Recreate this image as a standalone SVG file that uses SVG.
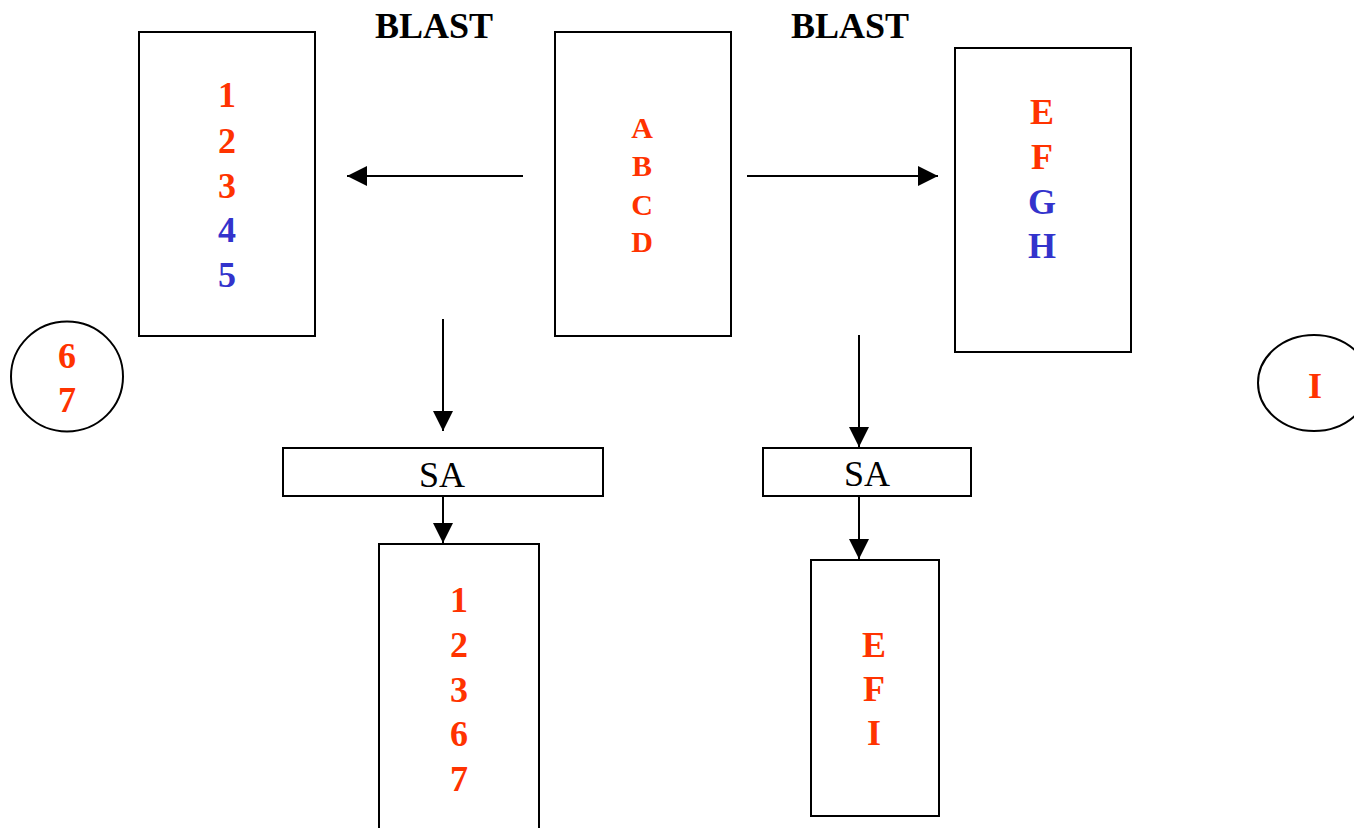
<svg xmlns="http://www.w3.org/2000/svg" width="1354" height="828" viewBox="0 0 1354 828">
<style>
.box{fill:#fff;stroke:#000;stroke-width:2}
.conn{stroke:#000;stroke-width:2;fill:none;marker-end:url(#ah)}
.t{font-family:"Liberation Serif","Times New Roman",serif;text-anchor:middle}
.b{font-weight:bold;font-size:36px}
.r{fill:#FF3300}
.u{fill:#3333CC}
.k{fill:#000}
</style>
<defs>
<marker id="ah" markerUnits="userSpaceOnUse" markerWidth="20" markerHeight="20" refX="20" refY="10" orient="auto">
<path d="M0,0 L20,10 L0,20 z" fill="#000"/>
</marker>
</defs>
<rect width="1354" height="828" fill="#fff"/>
<text class="t b k" x="434" y="38">BLAST</text>
<text class="t b k" x="850" y="38">BLAST</text>
<g id="box-left">
<rect class="box" x="139" y="32" width="176" height="304"/>
<text class="t b r" x="227" y="107">1</text>
<text class="t b r" x="227" y="153">2</text>
<text class="t b r" x="227" y="198">3</text>
<text class="t b u" x="227" y="242">4</text>
<text class="t b u" x="227" y="287">5</text>
</g>
<g id="box-center">
<rect class="box" x="555" y="32" width="176" height="304"/>
<text class="t r" style="font-weight:bold;font-size:30px" x="642" y="138">A</text>
<text class="t r" style="font-weight:bold;font-size:30px" x="642" y="176">B</text>
<text class="t r" style="font-weight:bold;font-size:30px" x="642" y="215">C</text>
<text class="t r" style="font-weight:bold;font-size:30px" x="642" y="252">D</text>
</g>
<g id="box-right">
<rect class="box" x="955" y="48" width="176" height="304"/>
<text class="t b r" x="1042" y="124">E</text>
<text class="t b r" x="1042" y="169">F</text>
<text class="t b u" x="1042" y="214">G</text>
<text class="t b u" x="1042" y="258">H</text>
</g>
<g id="circle-left">
<ellipse class="box" cx="67" cy="376.5" rx="56" ry="55"/>
<text class="t b r" x="67" y="368">6</text>
<text class="t b r" x="67" y="412">7</text>
</g>
<g id="circle-right">
<ellipse class="box" cx="1314" cy="383" rx="56" ry="48"/>
<text class="t b r" x="1315" y="398">I</text>
</g>
<g id="sa-left">
<rect class="box" x="283" y="448" width="320" height="48"/>
<text class="t k" style="font-size:36px" x="442" y="487">SA</text>
</g>
<g id="sa-right">
<rect class="box" x="763" y="448" width="208" height="48"/>
<text class="t k" style="font-size:36px" x="867" y="486">SA</text>
</g>
<g id="box-bottom-left">
<rect class="box" x="379" y="544" width="160" height="300"/>
<text class="t b r" x="459" y="612">1</text>
<text class="t b r" x="459" y="657">2</text>
<text class="t b r" x="459" y="702">3</text>
<text class="t b r" x="459" y="746">6</text>
<text class="t b r" x="459" y="791">7</text>
</g>
<g id="box-bottom-right">
<rect class="box" x="811" y="560" width="128" height="256"/>
<text class="t b r" x="874" y="657">E</text>
<text class="t b r" x="874" y="701">F</text>
<text class="t b r" x="874" y="745">I</text>
</g>
<g id="connectors">
<line class="conn" x1="523" y1="176" x2="347" y2="176"/>
<line class="conn" x1="747" y1="176" x2="938" y2="176"/>
<line class="conn" x1="443" y1="319" x2="443" y2="431"/>
<line class="conn" x1="443" y1="496" x2="443" y2="543"/>
<line class="conn" x1="859" y1="335" x2="859" y2="447"/>
<line class="conn" x1="859" y1="496" x2="859" y2="559"/>
</g>
</svg>
